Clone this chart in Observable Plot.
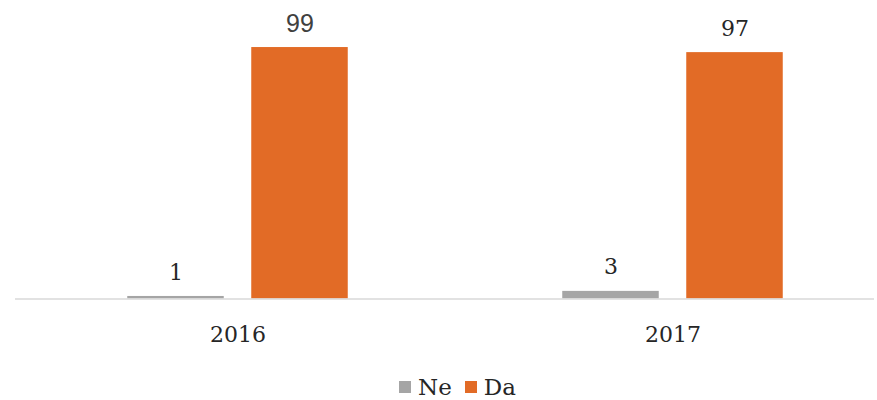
<!DOCTYPE html>
<html>
<head>
<meta charset="utf-8">
<script src="https://cdn.jsdelivr.net/npm/d3@7"></script>
<script src="https://cdn.jsdelivr.net/npm/@observablehq/plot@0.6"></script>
<style>
  html, body { margin: 0; padding: 0; background: #fff; }
  #wrap { position: relative; width: 877px; height: 400px; }
  #legend { position: absolute; left: 399px; top: 374px; display: flex; align-items: center;
    font-family: "DejaVu Serif", serif; font-size: 23px; color: #262626; }
  .sw { width: 12px; height: 12px; display: inline-block; margin-right: 7px; }
  .item { display: flex; align-items: center; margin-right: 13px; }
</style>
</head>
<body>
<div id="wrap"><div id="chart"></div><div id="legend"></div></div>
<script>
const years = ["2016", "2017"];
const series = ["Ne", "Da"];
const neValues = [1, 3];
const daValues = [99, 97];
const colors = ["#A5A5A5", "#E26B26"];

const ne = years.map((y, i) => ({year: y, value: neValues[i]}));
const da = years.map((y, i) => ({year: y, value: daValues[i]}));

const serif = "DejaVu Serif";
const chart = Plot.plot({
  width: 877,
  height: 350,
  marginLeft: 15,
  marginRight: 3,
  marginTop: 44.5,
  marginBottom: 51.5,
  style: {fontFamily: serif, background: "#fff"},
  x: {type: "band", domain: years, range: [19.75, 890.75], padding: 0},
  y: {domain: [0, 100], axis: null},
  marks: [
    Plot.barY(ne, {x: "year", y: "value", fill: colors[0], insetLeft: 107.25, insetRight: 231.25}),
    Plot.barY(da, {x: "year", y: "value", fill: colors[1], insetLeft: 231.25, insetRight: 107.25}),
    Plot.ruleY([0], {stroke: "#D9D9D9", strokeWidth: 1.5}),
    Plot.text(ne, {x: "year", y: "value", text: d => String(d.value), dx: -62, dy: -24,
      lineAnchor: "middle", fontSize: 22, fontFamily: serif, fill: "#262626"}),
    Plot.text(da.slice(0, 1), {x: "year", y: "value", text: d => String(d.value), dx: 62, dy: -24,
      lineAnchor: "middle", fontSize: 25, fontFamily: "Liberation Sans", fill: "#404040"}),
    Plot.text(da.slice(1), {x: "year", y: "value", text: d => String(d.value), dx: 62, dy: -24,
      lineAnchor: "middle", fontSize: 22, fontFamily: serif, fill: "#262626"}),
    Plot.axisX({tickSize: 0, tickPadding: 27, fontSize: 22, fontFamily: serif, fill: "#262626", label: null})
  ]
});
document.getElementById("chart").appendChild(chart);

const legend = document.getElementById("legend");
series.forEach((s, i) => {
  const item = document.createElement("div");
  item.className = "item";
  const sw = document.createElement("span");
  sw.className = "sw";
  sw.style.background = colors[i];
  item.appendChild(sw);
  const t = document.createElement("span");
  t.textContent = s;
  item.appendChild(t);
  legend.appendChild(item);
});
</script>
</body>
</html>
